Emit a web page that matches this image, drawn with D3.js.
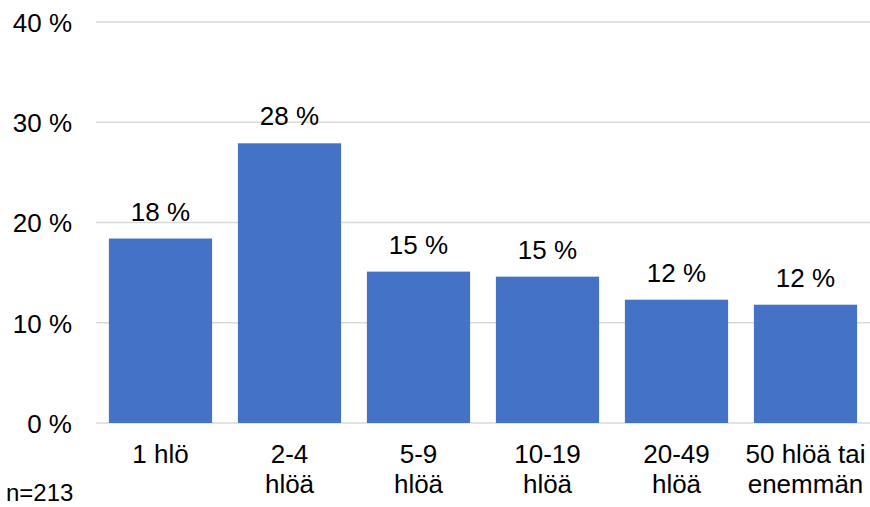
<!DOCTYPE html>
<html>
<head>
<meta charset="utf-8">
<script src="https://cdn.jsdelivr.net/npm/d3@7"></script>
<style>
  html, body { margin: 0; padding: 0; background: #ffffff; }
  svg { display: block; font-family: "Liberation Sans", Arial, sans-serif; }
</style>
</head>
<body>
<svg id="chart" width="870" height="507"></svg>
<script>
// Company size classes (line breaks marked with \n)
const categories = ["1 hlö", "2-4\nhlöä", "5-9\nhlöä", "10-19\nhlöä", "20-49\nhlöä", "50 hlöä tai\nenemmän"];
// Share of respondents, %
const shares = [18.4, 27.9, 15.1, 14.6, 12.3, 11.8];
// Y axis ticks, %
const yTicks = [0, 10, 20, 30, 40];
const sampleNote = "n=213";

const W = 870, H = 507;
const margin = { top: 22, right: 0, bottom: 84, left: 96 };

const svg = d3.select("#chart");

const x = d3.scaleBand()
  .domain(categories)
  .range([margin.left, W - margin.right])
  .paddingInner(0.2)
  .paddingOuter(0.1);

const y = d3.scaleLinear()
  .domain([0, 40])
  .range([H - margin.bottom, margin.top]);

// Horizontal gridlines
svg.append("g")
  .selectAll("line")
  .data(yTicks)
  .join("line")
  .attr("x1", margin.left)
  .attr("x2", W - margin.right)
  .attr("y1", d => y(d))
  .attr("y2", d => y(d))
  .attr("stroke", "#d9d9d9")
  .attr("stroke-width", 1.5);

// Y axis labels
const yAxis = d3.axisLeft(y)
  .tickValues(yTicks)
  .tickFormat(d => d + " %")
  .tickSize(0)
  .tickPadding(0);

const yG = svg.append("g")
  .attr("transform", `translate(72,0)`)
  .call(yAxis);
yG.select(".domain").remove();
yG.selectAll("text")
  .attr("font-size", 26)
  .attr("fill", "#000")
  .attr("font-family", "Liberation Sans, Arial, sans-serif")
  .attr("dy", "0.36em");

// Bars
svg.append("g")
  .selectAll("rect")
  .data(shares)
  .join("rect")
  .attr("x", (d, i) => x(categories[i]))
  .attr("width", x.bandwidth())
  .attr("y", d => y(d))
  .attr("height", d => y(0) - y(d))
  .attr("fill", "#4472c4");

// Value labels above bars
svg.append("g")
  .selectAll("text")
  .data(shares)
  .join("text")
  .attr("x", (d, i) => x(categories[i]) + x.bandwidth() / 2)
  .attr("y", d => y(d) - 18)
  .attr("text-anchor", "middle")
  .attr("font-size", 26)
  .attr("fill", "#000")
  .text(d => Math.round(d) + " %");

// Category labels, wrapped onto two lines
const xAxis = d3.axisBottom(x).tickSize(0).tickFormat("");
const xG = svg.append("g")
  .attr("transform", `translate(0,${y(0)})`)
  .call(xAxis);
xG.select(".domain").remove();

xG.selectAll(".tick")
  .append("text")
  .attr("text-anchor", "middle")
  .attr("font-size", 26)
  .attr("fill", "#000")
  .attr("font-family", "Liberation Sans, Arial, sans-serif")
  .each(function(d) {
    const lines = d.split("\n");
    const t = d3.select(this);
    lines.forEach((ln, k) => {
      t.append("tspan")
        .attr("x", 0)
        .attr("y", 40 + k * 30)
        .text(ln);
    });
  });

// Sample size note
svg.append("text")
  .attr("x", 6)
  .attr("y", 501)
  .attr("font-size", 24)
  .attr("fill", "#000")
  .text(sampleNote);
</script>
</body>
</html>
